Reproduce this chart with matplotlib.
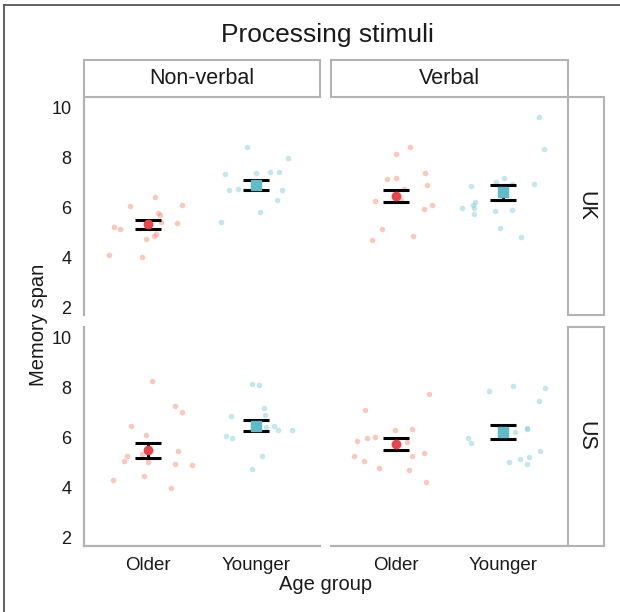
import matplotlib
matplotlib.use('agg')
import matplotlib.pyplot as plt
from matplotlib.patches import Rectangle
from matplotlib.lines import Line2D

plt.rcParams['font.family'] = ['Liberation Sans', 'DejaVu Sans']

# categories
stimuli = ['Non-verbal', 'Verbal']
countries = ['UK', 'US']
age_groups = ['Older', 'Younger']

# raw scores (jitter offset, value)
nv_uk_old_dx = [0.065, -0.175, 0.31, 0.087, 0.106, 0.12, 0.265, -0.318, -0.26, 0.075, 0.05, -0.025, -0.37, -0.056]
nv_uk_old = [6.41, 6.07, 6.12, 5.78, 5.68, 5.43, 5.36, 5.23, 5.15, 4.93, 4.87, 4.75, 4.11, 4.01]
nv_uk_young_dx = [-0.08, 0.30, -0.29, 0.0, 0.13, 0.22, -0.25, -0.16, 0.25, 0.20, 0.04, -0.32]
nv_uk_young = [8.42, 7.97, 7.35, 7.39, 7.43, 7.41, 6.70, 6.74, 6.69, 6.30, 5.82, 5.40]

v_uk_old_dx = [0.13, 0.0, 0.27, -0.08, 0.0, 0.29, 0.08, -0.19, 0.05, 0.34, 0.26, -0.13, -0.22, 0.16]
v_uk_old = [8.43, 8.15, 7.39, 7.15, 7.20, 6.89, 6.74, 6.27, 6.30, 6.11, 5.92, 5.14, 4.71, 4.85]
v_uk_young_dx = [0.33, 0.38, -0.30, -0.07, 0.01, 0.08, 0.28, -0.26, -0.28, -0.27, -0.38, -0.27, -0.08, 0.08, -0.03, 0.16]
v_uk_young = [9.65, 8.35, 6.88, 7.03, 7.19, 6.94, 6.94, 6.22, 6.11, 5.96, 5.99, 5.75, 5.87, 5.91, 5.18, 4.83]

nv_us_old_dx = [0.03, 0.25, 0.31, -0.16, -0.02, 0.28, -0.06, -0.20, -0.23, 0.0, 0.25, 0.41, -0.04, -0.33, 0.21]
nv_us_old = [8.26, 7.28, 7.04, 6.47, 6.12, 5.46, 5.32, 5.24, 5.07, 5.02, 4.92, 4.88, 4.45, 4.28, 3.97]
nv_us_young_dx = [-0.03, 0.03, 0.08, 0.09, -0.23, 0.17, 0.10, 0.21, 0.34, -0.28, -0.22, 0.06, -0.03]
nv_us_young = [8.13, 8.09, 7.19, 6.92, 6.86, 6.45, 6.41, 6.31, 6.29, 6.08, 5.98, 5.26, 4.72]

v_us_old_dx = [0.31, -0.28, -0.01, 0.15, -0.36, -0.27, -0.19, 0.11, 0.26, -0.39, 0.15, -0.29, -0.15, 0.12, 0.28]
v_us_old = [7.76, 7.12, 6.30, 6.34, 5.84, 5.96, 6.03, 5.80, 5.38, 5.24, 5.26, 5.06, 4.79, 4.69, 4.21]
v_us_young_dx = [-0.13, 0.09, 0.39, 0.33, 0.22, 0.22, 0.11, -0.03, -0.33, -0.30, 0.34, 0.24, 0.15, 0.05, 0.22]
v_us_young = [7.85, 8.07, 7.97, 7.45, 6.38, 6.33, 6.21, 6.38, 5.96, 5.79, 5.44, 5.23, 5.14, 5.03, 4.93]

# group means and error bar ends [Older, Younger]
mean_nv_uk = [5.32, 6.90]
lo_nv_uk = [5.14, 6.70]
hi_nv_uk = [5.50, 7.11]
mean_v_uk = [6.46, 6.62]
lo_v_uk = [6.22, 6.30]
hi_v_uk = [6.70, 6.90]
mean_nv_us = [5.48, 6.46]
lo_nv_us = [5.18, 6.26]
hi_nv_us = [5.78, 6.70]
mean_v_us = [5.74, 6.22]
lo_v_us = [5.50, 5.95]
hi_v_us = [5.98, 6.50]

panels = {
    ('Non-verbal', 'UK'): ((nv_uk_old_dx, nv_uk_old), (nv_uk_young_dx, nv_uk_young), mean_nv_uk, lo_nv_uk, hi_nv_uk),
    ('Verbal', 'UK'): ((v_uk_old_dx, v_uk_old), (v_uk_young_dx, v_uk_young), mean_v_uk, lo_v_uk, hi_v_uk),
    ('Non-verbal', 'US'): ((nv_us_old_dx, nv_us_old), (nv_us_young_dx, nv_us_young), mean_nv_us, lo_nv_us, hi_nv_us),
    ('Verbal', 'US'): ((v_us_old_dx, v_us_old), (v_us_young_dx, v_us_young), mean_v_us, lo_v_us, hi_v_us),
}

pt_colors = ['#F8876F', '#7CC8D6']
mean_colors = ['#E8464B', '#62B9C8']
mean_markers = ['o', 's']
mean_sizes = [6.0, 6.8]
grey = '#B3B3B3'

W, H = 620, 612
fig = plt.figure(figsize=(6.2, 6.12), dpi=100)

col_x = [(84, 320), (331, 568)]
row_y = [(97, 315.5), (327, 545.5)]


def fx(px):
    return px / W


def fy(py):
    return 1 - py / H


axes = {}
for r, country in enumerate(countries):
    for c, stim in enumerate(stimuli):
        x0, x1 = col_x[c]
        y0, y1 = row_y[r]
        ax = fig.add_axes([fx(x0), fy(y1), fx(x1) - fx(x0), fy(y0) - fy(y1)])
        old, young, means, lo, hi = panels[(stim, country)]
        for g, (dx, vals) in enumerate([old, young]):
            xs = [g + 1 + d for d in dx]
            ax.scatter(xs, vals, s=16, color=pt_colors[g], alpha=0.45, linewidths=0, zorder=2)
            ax.errorbar([g + 1], [means[g]], yerr=[[means[g] - lo[g]], [hi[g] - means[g]]],
                        fmt='none', ecolor='black', elinewidth=2.2, capsize=9.6, capthick=2.2, zorder=3)
            ax.plot([g + 1], [means[g]], marker=mean_markers[g], ms=mean_sizes[g], color=mean_colors[g],
                    mec=mean_colors[g], zorder=4)
        ax.set_xlim(0.4, 2.6)
        ax.set_ylim(1.66, 10.44)
        ax.set_yticks([2, 4, 6, 8, 10])
        ax.set_xticks([1, 2])
        ax.tick_params(length=0, colors='#1A1A1A')
        ax.tick_params(axis='y', pad=9, labelsize=13)
        ax.tick_params(axis='x', pad=8, labelsize=13.5)
        for s in ax.spines.values():
            s.set_visible(False)
            s.set_color(grey)
            s.set_linewidth(1.6)
        if c == 0:
            ax.spines['left'].set_visible(True)
        else:
            ax.set_yticklabels([])
        if r == 1:
            ax.spines['bottom'].set_visible(True)
            ax.set_xticklabels(age_groups)
        else:
            ax.set_xticklabels([])
        ax.patch.set_alpha(0)
        axes[(r, c)] = ax

# strips
for c, stim in enumerate(stimuli):
    x0, x1 = col_x[c]
    fig.patches.append(Rectangle((fx(x0), fy(97)), fx(x1) - fx(x0), fy(60) - fy(97), transform=fig.transFigure,
                                 facecolor='white', edgecolor=grey, linewidth=1.5, zorder=1))
    fig.text(fx((x0 + x1) / 2), fy(78.5), stim, ha='center', va='center', fontsize=15.5, color='#1A1A1A', zorder=10)
for r, country in enumerate(countries):
    y0, y1 = row_y[r]
    fig.patches.append(Rectangle((fx(568), fy(y1)), fx(604) - fx(568), fy(y0) - fy(y1), transform=fig.transFigure,
                                 facecolor='white', edgecolor=grey, linewidth=1.5, zorder=1))
    fig.text(fx(586), fy((y0 + y1) / 2), country, ha='center', va='center', rotation=-90,
             fontsize=15.5, color='#1A1A1A', zorder=10)

fig.text(fx(327), fy(35), 'Processing stimuli', ha='center', va='center', fontsize=19, color='#1A1A1A')
fig.text(fx(326), fy(585), 'Age group', ha='center', va='center', fontsize=14.5, color='#1A1A1A')
fig.text(fx(38), fy(325), 'Memory span', ha='center', va='center', rotation=90, fontsize=14.5, color='#1A1A1A')

# outer frame
fig.lines.append(Line2D([fx(3.5), 1], [fy(4.5), fy(4.5)], transform=fig.transFigure, color='#555555', lw=1.3))
fig.lines.append(Line2D([fx(3.5), fx(3.5)], [0, fy(4.5)], transform=fig.transFigure, color='#555555', lw=1.3))

fig.savefig('out.png', dpi=100)
